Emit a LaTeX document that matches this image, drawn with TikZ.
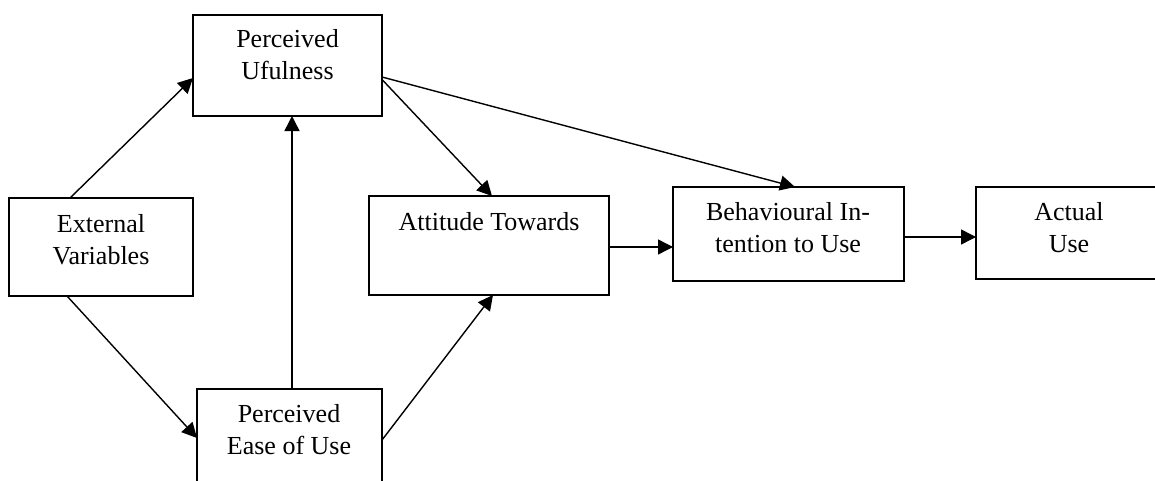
\documentclass[tikz,border=0pt]{standalone}
\usepackage{fontspec}
\setmainfont{Liberation Serif}
\usetikzlibrary{arrows.meta,calc}
\begin{document}
\begin{tikzpicture}[x=0.5pt,y=-0.5pt,
  box/.style={draw=black,line width=0.75pt,inner sep=0pt,outer sep=0pt,fill=none},
  txt/.style={anchor=north,inner sep=0pt,align=center,font=\fontsize{13}{16}\selectfont},
  conn/.style={draw=black,line width=0.7pt,-{Triangle[length=7.5pt,width=7.5pt]}}]
\useasboundingbox (0,0) rectangle (1155,481);
\clip (0,0) rectangle (1155,481);
% boxes
\node[box,minimum width=94.5pt,minimum height=50.5pt] (pu) at (287.5,65.5) {};
\node[box,minimum width=92pt,minimum height=49pt] (ev) at (101,247) {};
\node[box,minimum width=92.5pt,minimum height=55.5pt] (peou) at (289.5,444.5) {};
\node[box,minimum width=120pt,minimum height=49.5pt] (at) at (489,245.5) {};
\node[box,minimum width=115.5pt,minimum height=47pt] (bi) at (788.5,234) {};
\node[box,minimum width=93pt,minimum height=46pt] (au) at (1069,233) {};
% texts
\node[txt] (tpu) at (287.5,29) {Perceived\\Ufulness};
\node[txt] (tev) at (101,214) {External\\Variables};
\node[txt] (tpeou) at (289,404) {Perceived\\Ease of Use};
\node[txt] (tat) at (489,212) {Attitude Towards};
\node[txt] (tbi) at (788,202) {Behavioural In-\\tention to Use};
\node[txt] (tau) at (1069,202) {Actual\\Use};
% connectors
\draw[conn] ([xshift=-15.5pt]ev.north) -- ([yshift=-6.25pt]pu.west);
\draw[conn] ([xshift=-17pt]ev.south) -- ([yshift=3.25pt]peou.west);
\draw[conn] ([xshift=2.25pt]pu.south |- peou.north) -- ([xshift=2.25pt]pu.south);
\draw[conn] ([yshift=2.25pt]peou.east) -- ([xshift=2pt]at.south);
\draw[conn] ([yshift=-7pt]pu.east) -- ([xshift=1.5pt]at.north);
\draw[conn] ([yshift=-5.75pt]pu.east) -- ([xshift=3.25pt]bi.north);
\draw[conn] ([yshift=-0.75pt]at.east) -- ([yshift=-0.75pt]at.east -| bi.west);
\draw[conn] ([yshift=-1.5pt]bi.east) -- ([yshift=-1.5pt]bi.east -| au.west);
\end{tikzpicture}
\end{document}
